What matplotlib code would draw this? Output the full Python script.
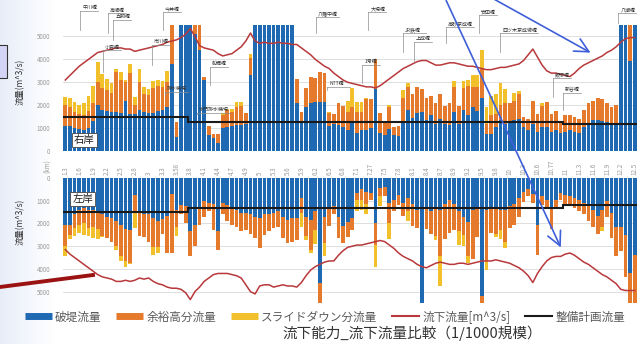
import numpy as np
import matplotlib.pyplot as plt
from matplotlib.patches import FancyArrowPatch, Rectangle
from matplotlib.lines import Line2D

plt.rcParams['font.family'] = ['Noto Sans CJK JP', 'DejaVu Sans']

# 距離標 (km) -- labelled every third section
km_labels = ['1.3', '1.6', '1.9', '2.2', '2.5', '2.8', '3', '3.3', '3.58', '3.8', '4.1', '4.4',
             '4.7', '4.9', '5', '5.3', '5.6', '5.9', '6.2', '6.5', '6.8', '7.1', '7.27', '7.5',
             '7.8', '8.1', '8.4', '8.7', '8.9', '9.2', '9.5', '9.8', '10', '10.3', '10.6', '10.77',
             '11', '11.3', '11.6', '11.9', '12.2', '12.5']

# 右岸 (m3/s)
right_breach = [1100, 1100, 1000, 950, 900, 1000, 1300, 2000, 1800, 1750,
                1700, 1700, 1650, 2200, 1600, 1600, 1800, 1700, 1650, 1650,
                1750, 1800, 1900, 3800, 600, 6000, 6000, 6000, 5100, 4400,
                3100, 700, 550, 350, 1000, 1050, 1100, 1150, 1150, 1200,
                3300, 6000, 6000, 6000, 6000, 6000, 6000, 6000, 6000, 6000,
                2100, 1250, 1900, 2100, 2150, 2150, 2150, 1100, 1200, 1150,
                1050, 900, 1300, 800, 900, 900, 1000, 2700, 800, 700,
                950, 700, 650, 1300, 1800, 1450, 1650, 1700, 1350, 1550,
                1200, 1400, 1200, 1150, 1700, 1200, 1800, 1550, 1900, 1750,
                2300, 750, 750, 1050, 1350, 1200, 1250, 1350, 1400, 1050,
                900, 1200, 850, 1050, 1050, 850, 900, 800, 850, 900,
                850, 800, 1050, 1200, 1350, 1350, 1300, 1250, 1200, 1150,
                6000, 6000, 3950, 6000]
right_freeboard = [900, 800, 700, 650, 650, 750, 800, 1000, 950, 900,
                   850, 1750, 1450, 800, 1800, 400, 1200, 800, 800, 1100,
                   1100, 1000, 1100, 2200, 650, 0, 0, 0, 900, 1600,
                   150, 400, 200, 400, 550, 750, 600, 750, 800, 450,
                   750, 0, 0, 0, 0, 0, 0, 0, 0, 0,
                   1050, 450, 850, 1150, 1050, 1300, 1250, 550, 400, 950,
                   900, 800, 600, 900, 800, 1350, 1250, 1300, 850, 600,
                   950, 350, 450, 1000, 1000, 1050, 1150, 1000, 950, 850,
                   900, 1100, 750, 950, 1100, 750, 950, 1300, 900, 1050,
                   1300, 450, 800, 550, 650, 900, 850, 850, 1100, 450,
                   500, 1000, 750, 900, 1100, 750, 850, 500, 700, 650,
                   650, 600, 750, 900, 850, 950, 950, 850, 700, 850,
                   0, 0, 2050, 0]
right_slide = [350, 400, 450, 400, 550, 650, 750, 900, 600, 500,
               400, 150, 350, 100, 400, 350, 600, 300, 250, 300,
               250, 250, 500, 0, 0, 0, 0, 0, 0, 0,
               0, 0, 0, 0, 100, 50, 150, 250, 200, 0,
               200, 0, 0, 0, 0, 0, 0, 0, 0, 0,
               0, 0, 0, 0, 0, 0, 0, 50, 0, 0,
               0, 500, 850, 450, 450, 50, 0, 0, 0, 0,
               100, 0, 0, 350, 150, 0, 0, 0, 0, 0,
               0, 0, 0, 0, 250, 0, 300, 250, 500, 500,
               800, 700, 850, 900, 950, 600, 0, 350, 100, 0,
               0, 0, 0, 150, 0, 0, 0, 0, 0, 0,
               0, 0, 0, 0, 0, 0, 0, 0, 0, 0,
               0, 0, 0, 0]
right_flow = [3100, 3300, 3500, 3700, 3850, 4000, 4150, 4300, 4350, 4400,
              4450, 4500, 4500, 4450, 4450, 4350, 4400, 4450, 4500, 4550,
              4600, 4650, 4750, 4800, 4850, 4950, 5100, 5350, 5000, 4600,
              4500, 4450, 4400, 4250, 4150, 4200, 4250, 4400, 4550, 4800,
              5150, 4800, 4700, 4750, 4700, 4700, 4750, 4700, 4700, 4650,
              4650, 4500, 4350, 4200, 4000, 3850, 3700, 3600, 3400, 3250,
              3100, 3000, 2950, 2900, 2850, 2800, 2800, 2750, 2850, 3000,
              3150, 3300, 3450, 3600, 3700, 3800, 3900, 3950, 3950, 3850,
              3750, 3750, 3800, 3850, 3850, 3800, 3750, 3700, 3700, 3650,
              3600, 3550, 3550, 3600, 3650, 3650, 3700, 3750, 3800, 3950,
              4200, 4450, 4100, 3750, 3500, 3400, 3400, 3350, 3300, 3250,
              3400, 3600, 3750, 3850, 3950, 4050, 4150, 4300, 4400, 4550,
              4750, 4900, 4950, 4950]

# 左岸 (m3/s)
left_breach = [2050, 2050, 1600, 1400, 1300, 1400, 1400, 1450, 1600, 1700,
               1750, 1900, 2050, 2250, 2300, 750, 1550, 1600, 1600, 1750,
               1900, 1800, 1650, 700, 1400, 1200, 1250, 2350, 2050, 1300,
               1000, 1100, 1150, 2350, 1100, 1200, 1300, 1400, 1550, 1550,
               1600, 1700, 1750, 1600, 1600, 1550, 1450, 1700, 1850, 1750,
               1750, 900, 1700, 1850, 1450, 4600, 1700, 1300, 1250, 1700,
               2100, 1950, 1750, 650, 500, 600, 650, 2000, 450, 400,
               1100, 950, 750, 1100, 900, 1150, 1400, 6000, 1300, 1450,
               1300, 1400, 1150, 950, 1150, 1450, 1700, 1950, 1400, 1300,
               5200, 1400, 1300, 1300, 1400, 1400, 1250, 1150, 900, 600,
               500, 700, 2050, 800, 950, 1300, 950, 650, 750, 800,
               900, 950, 1100, 1250, 1400, 1650, 1400, 1000, 1550, 2150,
               2150, 2500, 4200, 3400]
left_freeboard = [950, 450, 600, 650, 700, 800, 750, 800, 950, 950,
                  1050, 1100, 1400, 1400, 1450, 800, 1000, 1000, 1200, 1300,
                  1150, 650, 1650, 2600, 750, 400, 750, 1100, 950, 750,
                  700, 350, 1150, 800, 500, 700, 750, 750, 800, 750,
                  850, 950, 1350, 900, 750, 650, 700, 950, 1000, 1050,
                  1000, 650, 850, 1300, 850, 1400, 1150, 800, 350, 950,
                  750, 650, 550, 300, 450, 550, 300, 950, 350, 400,
                  900, 500, 450, 550, 550, 950, 800, 0, 950, 1000,
                  1250, 2050, 1550, 1450, 1150, 900, 800, 1500, 2150, 1300,
                  400, 2200, 1100, 1150, 900, 1400, 950, 900, 800, 450,
                  300, 400, 1350, 400, 350, 950, 350, 300, 450, 450,
                  400, 500, 500, 650, 750, 800, 750, 700, 1100, 1300,
                  1050, 1850, 1400, 2100]
left_slide = [450, 200, 350, 350, 500, 350, 500, 450, 50, 0,
              0, 150, 200, 250, 50, 650, 0, 0, 0, 350,
              250, 0, 0, 0, 400, 0, 0, 0, 0, 0,
              0, 0, 0, 0, 0, 0, 0, 0, 0, 0,
              0, 0, 0, 0, 0, 0, 0, 0, 0, 0,
              0, 600, 200, 150, 600, 0, 600, 0, 0, 0,
              0, 0, 0, 500, 450, 450, 0, 950, 450, 0,
              700, 0, 0, 0, 450, 0, 0, 0, 0, 0,
              200, 1300, 0, 0, 0, 600, 500, 300, 0, 0,
              0, 450, 0, 150, 400, 300, 0, 0, 0, 0,
              0, 0, 0, 0, 0, 0, 0, 0, 0, 0,
              0, 0, 0, 0, 0, 0, 200, 0, 0, 0,
              0, 0, 0, 0]
left_flow = [3150, 3350, 3500, 3650, 3800, 3950, 4100, 4250, 4350, 4400,
             4450, 4550, 4550, 4500, 4550, 4500, 4400, 4450, 4400, 4550,
             4650, 4700, 4800, 4850, 4850, 4900, 5050, 5350, 5000, 4800,
             4550, 4400, 4250, 4200, 4200, 4200, 4250, 4300, 4400, 4700,
             5000, 5100, 4750, 4700, 4700, 4800, 4750, 4700, 4750, 4750,
             4800, 4600, 4300, 4050, 3900, 3800, 3700, 3650, 3650, 3400,
             3200, 3050, 3000, 2950, 2950, 2900, 2850, 2800, 2750, 2800,
             2950, 3100, 3300, 3450, 3550, 3650, 3800, 3900, 3950, 3850,
             3750, 3700, 3750, 3800, 3800, 3750, 3750, 3800, 3750, 3700,
             3650, 3650, 3650, 3600, 3650, 3700, 3750, 3850, 3950, 4100,
             4300, 4600, 4200, 3900, 3650, 3500, 3450, 3450, 3350, 3300,
             3400, 3550, 3700, 3800, 3950, 4100, 4250, 4350, 4500, 4650,
             4900, 4950, 4950, 4950]

# 整備計画流量: section edges (bar index) and design discharge
plan_edges = [0, 27, 108, 124]
right_plan = [1480, 1250, 1180]
left_plan = [1480, 1300, 1180]

# bridge call-outs on the right-bank panel: name, km index, label level, leader foot
bridges = [('中川橋', 3.2, 6100, 5270), ('高瀬橋', 9.2, 6010, 5140), ('五明橋', 10.3, 5710, 4840),
           ('今井橋', 21.1, 6060, 5270), ('小岩橋', 8.1, 4400, 3440), ('市川橋', 18.7, 4620, 3750),
           ('排水機場', 21.5, 2570, 2450), ('船堀橋', 31.2, 3660, 2880), ('水門排水機場', 28.4, 1660, 1600),
           ('八幡中橋', 54.1, 5840, 5140), ('大場橋', 65.4, 6060, 5270), ('JR鉄橋', 72.9, 5140, 4310),
           ('上成橋', 75.3, 4750, 3880), ('1号橋', 64.1, 3750, 2960), ('NTT橋', 56.5, 2790, 2650),
           ('高砂京成橋', 82.2, 5400, 4710), ('安田橋', 89.3, 5930, 5140), ('四ツ木京成線橋', 93.9, 5140, 4310),
           ('飯塚橋', 105.3, 3180, 2350), ('新谷橋', 107.5, 2530, 1790), ('八潮橋', 119.4, 6010, 5580)]

BLUE = '#1f69b3'
ORANGE = '#e57a2c'
YELLOW = '#f1c02b'
RED = '#b8383b'
BLACK = '#1a1a1a'

W, H = 643, 344


def fx(px):
    return px / W


def fy(py):
    return 1 - py / H


n = len(right_breach)
x = np.arange(n)

fig = plt.figure(figsize=(W / 100, H / 100), dpi=100)

# pale blue slide background on the left edge
bg = fig.add_axes([0, 0, 1, 1], zorder=-10)
bg.set_axis_off()
img = np.zeros((1, W, 4))
img[..., :3] = [0.74, 0.81, 0.93]
img[0, :, 3] = np.clip(1 - np.arange(W) / 55, 0, 1) * 0.35
bg.imshow(img, extent=[0, 1, 0, 1], aspect='auto')
bg.set_xlim(0, 1)
bg.set_ylim(0, 1)

ax1 = fig.add_axes([fx(63), fy(151), (637 - 63) / W, (151 - 25) / H])
ax2 = fig.add_axes([fx(63), fy(303), (637 - 63) / W, (303 - 178) / H])


def draw_bank(ax, breach, freeboard, slide, flow, plan):
    b = np.array(breach)
    f = np.array(freeboard)
    s = np.array(slide)
    ax.bar(x, b, width=0.8, color=BLUE, zorder=2)
    ax.bar(x, f, bottom=b, width=0.8, color=ORANGE, zorder=2)
    ax.bar(x, s, bottom=b + f, width=0.8, color=YELLOW, zorder=2)
    ax.stairs(plan, np.array(plan_edges) - 0.5, baseline=None, color=BLACK, lw=1.5, zorder=4)
    ax.plot(x, flow, color=RED, lw=1.1, zorder=5)
    ax.set_xlim(-0.5, n - 0.5)
    ax.set_yticks(range(0, 6000, 1000))
    ax.grid(axis='y', color='#d9d9d9', lw=0.6)
    ax.set_axisbelow(True)
    for sp in ax.spines.values():
        sp.set_visible(False)
    ax.tick_params(axis='y', length=0, labelsize=4.5, labelcolor='#9a9a9a', pad=9)


draw_bank(ax1, right_breach, right_freeboard, right_slide, right_flow, right_plan)
ax1.set_ylim(0, 5500)
ax1.set_xticks([])

draw_bank(ax2, left_breach, left_freeboard, left_slide, left_flow, left_plan)
ax2.set_ylim(5500, 0)
ax2.xaxis.tick_top()
ax2.set_xticks(x[::3])
ax2.set_xticklabels(km_labels, rotation=90, fontsize=4.5, color='#9a9a9a')
ax2.tick_params(axis='x', length=0, pad=2)

ax1.text(0.019, 0.05, '右岸', transform=ax1.transAxes, fontsize=7.5, color='#222',
         ha='left', va='bottom', zorder=7,
         bbox=dict(boxstyle='square,pad=0.2', fc='white', ec='#444', lw=0.6))
ax2.text(0.016, 0.87, '左岸', transform=ax2.transAxes, fontsize=7.5, color='#222',
         ha='left', va='top', zorder=7,
         bbox=dict(boxstyle='square,pad=0.2', fc='white', ec='#444', lw=0.6))

# bridge call-outs
for name, pos, level, foot in bridges:
    ax1.plot([pos, pos], [level, foot], color='#8c8c8c', lw=0.5, zorder=6, clip_on=False)
    ax1.plot([pos, pos + 1.1 * len(name) + 0.6], [level, level], color='#8c8c8c', lw=0.5,
             zorder=6, clip_on=False)
    ax1.text(pos + 0.5, level + 40, name, fontsize=3.6, color='#333', ha='left', va='bottom',
             zorder=7, clip_on=False)

fig.text(fx(20), fy(82), '流量(m^3/s)', rotation=90, ha='center', va='center', fontsize=6,
         color='#333')
fig.text(fx(20), fy(222), '流量(m^3/s)', rotation=90, ha='center', va='center', fontsize=6,
         color='#333')
fig.text(fx(47), fy(166), '(km)', rotation=90, ha='center', va='center', fontsize=4.5,
         color='#9a9a9a')

handles = [Line2D([], [], color=BLUE, lw=5, solid_capstyle='butt'),
           Line2D([], [], color=ORANGE, lw=5, solid_capstyle='butt'),
           Line2D([], [], color=YELLOW, lw=5, solid_capstyle='butt'),
           Line2D([], [], color=RED, lw=1.5),
           Line2D([], [], color=BLACK, lw=1.5)]
labels = ['破堤流量', '余裕高分流量', 'スライドダウン分流量', '流下流量[m^3/s]', '整備計画流量']
fig.legend(handles, labels, loc='center', bbox_to_anchor=(fx(325), fy(317)), ncol=5,
           frameon=False, fontsize=8.4, handlelength=2.3, handletextpad=0.3,
           columnspacing=1.25, labelcolor='#595959')

fig.text(fx(412), fy(333), '流下能力_流下流量比較（1/1000規模）', ha='center', va='center',
         fontsize=10.5, color='#333')

# slide decorations: side box, dark red pointer and blue arrows
fig.add_artist(Rectangle((fx(-2), fy(78)), 9 / W, 33 / H, transform=fig.transFigure,
                         fc='#d4d4f7', ec='#333', lw=0.8, zorder=20))
fig.add_artist(Line2D([fx(0), fx(93)], [fy(287), fy(275)], transform=fig.transFigure,
                      color='#9a1212', lw=2.8, zorder=20))
for start, end in [((445, -2), (562, 250)), ((492, -2), (593, 54))]:
    fig.add_artist(FancyArrowPatch((fx(start[0]), fy(start[1])), (fx(end[0]), fy(end[1])),
                                   transform=fig.transFigure, arrowstyle='->,head_length=1,head_width=0.5',
                                   mutation_scale=10, color='#3f5fd8', lw=1.2, zorder=21))

fig.savefig('out.png', dpi=100)
